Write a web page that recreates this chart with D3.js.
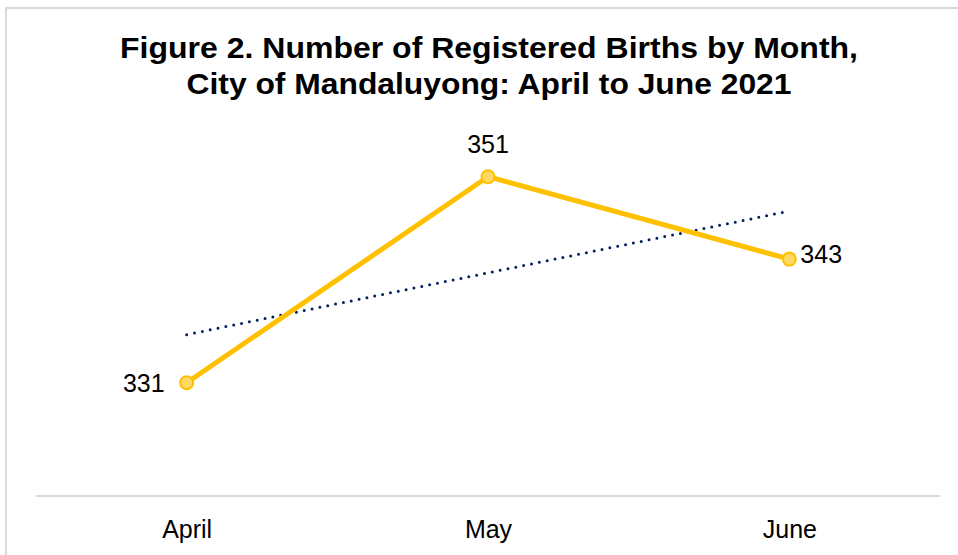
<!DOCTYPE html>
<html>
<head>
<meta charset="utf-8">
<script src="https://cdn.jsdelivr.net/npm/d3@7"></script>
<style>
  html, body { margin: 0; padding: 0; background: #fff; }
  svg { display: block; font-family: "Liberation Sans", Arial, sans-serif; }
</style>
</head>
<body>
<svg id="chart" width="958" height="555"></svg>
<script>
const months = ["April", "May", "June"]
const births = [331, 351, 343]
const titleLines = [
  "Figure 2. Number of Registered Births by Month,",
  "City of Mandaluyong: April to June 2021"
]

const svg = d3.select("#chart")

// outer frame (chart area border, partially cropped)
svg.append("path")
  .attr("d", "M6,560 V8 H970")
  .attr("fill", "none")
  .attr("stroke", "#d9d9d9")
  .attr("stroke-width", 2)

const x = d3.scalePoint().domain(months).range([36, 940]).padding(0.5)
const y = d3.scaleLinear().domain([320, 355]).range([496, 135.5])

// title (Excel renders it a bit wider than Liberation, so stretch to width)
const titleWidths = [738, 605]
svg.append("g").selectAll("text")
  .data(titleLines)
  .join("text")
    .attr("x", 489)
    .attr("y", (d, i) => 58 + i * 36)
    .attr("text-anchor", "middle")
    .attr("font-weight", "bold")
    .attr("font-size", 30)
    .attr("textLength", (d, i) => titleWidths[i])
    .attr("lengthAdjust", "spacingAndGlyphs")
    .attr("fill", "#000")
    .text(d => d)

// category axis
const xAxis = svg.append("g")
  .attr("transform", "translate(0,496)")
  .call(d3.axisBottom(x).tickSize(0).tickPadding(24))
xAxis.select(".domain").attr("stroke", "#d9d9d9").attr("stroke-width", 2)
  .attr("d", "M36,0H940")
xAxis.selectAll("text")
  .attr("font-size", 25)
  .attr("font-family", "Liberation Sans, Arial, sans-serif")
  .attr("fill", "#000")

const data = months.map((m, i) => ({ m, v: births[i], i: i + 1 }))

// linear trendline (least squares over month index)
const n = data.length
const mx = d3.mean(data, d => d.i)
const my = d3.mean(data, d => d.v)
const slope = d3.sum(data, d => (d.i - mx) * (d.v - my)) / d3.sum(data, d => (d.i - mx) ** 2)
const icpt = my - slope * mx
const trend = [data[0], data[n - 1]].map(d => ({ m: d.m, v: icpt + slope * d.i }))

svg.append("path")
  .datum(trend)
  .attr("fill", "none")
  .attr("stroke", "#002060")
  .attr("stroke-width", 3)
  .attr("stroke-linecap", "round")
  .attr("stroke-dasharray", "0,8")
  .attr("d", d3.line().x(d => x(d.m)).y(d => y(d.v)))

// series line
svg.append("path")
  .datum(data)
  .attr("fill", "none")
  .attr("stroke", "#ffc000")
  .attr("stroke-width", 5)
  .attr("stroke-linejoin", "round")
  .attr("d", d3.line().x(d => x(d.m)).y(d => y(d.v)))

svg.append("g").selectAll("circle")
  .data(data)
  .join("circle")
    .attr("cx", d => x(d.m))
    .attr("cy", d => y(d.v))
    .attr("r", 6.5)
    .attr("fill", "#ffd966")
    .attr("stroke", "#ffc000")
    .attr("stroke-width", 2)

// data labels: left, above, right
const labelPos = [
  { dx: -22, dy: 9, anchor: "end" },
  { dx: 0, dy: -24, anchor: "middle" },
  { dx: 11, dy: 4, anchor: "start" }
]
svg.append("g").selectAll("text")
  .data(data)
  .join("text")
    .attr("x", (d, i) => x(d.m) + labelPos[i].dx)
    .attr("y", (d, i) => y(d.v) + labelPos[i].dy)
    .attr("text-anchor", (d, i) => labelPos[i].anchor)
    .attr("font-size", 25)
    .attr("fill", "#000")
    .text(d => d.v)
</script>
</body>
</html>
